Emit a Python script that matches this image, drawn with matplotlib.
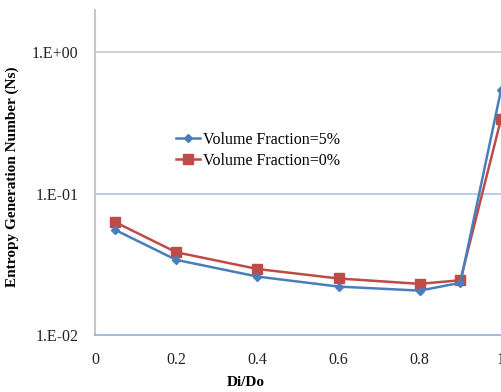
import matplotlib.pyplot as plt
import numpy as np

# Data
di_do = [0.05, 0.2, 0.4, 0.6, 0.8, 0.9, 1.0]
ns_5pct = [0.0553, 0.034, 0.0259, 0.022, 0.0206, 0.0234, 0.541]
ns_0pct = [0.0628, 0.0385, 0.0293, 0.0251, 0.0230, 0.0244, 0.337]

x_ticks = [0, 0.2, 0.4, 0.6, 0.8, 1]
y_ticks = [0.01, 0.1, 1.0]
y_tick_labels = ['1.E-02', '1.E-01', '1.E+00']

plt.rcParams['font.family'] = ['Liberation Serif', 'DejaVu Serif']

fig = plt.figure(figsize=(5.02, 3.92), dpi=100)
ax = fig.add_axes([95 / 502, 1 - 335 / 392, 406 / 502, 325 / 392])

ax.set_yscale('log')
ax.set_ylim(0.01, 1.99)
ax.set_xlim(0, 1)

# gridlines like the Excel chart
ax.axhline(1.0, color='#c8c8c8', linewidth=1.2, zorder=0)
ax.axhline(0.1, color='#a9c4e6', linewidth=1.2, zorder=0)

ax.plot(di_do, ns_5pct, color='#4a7ebb', linewidth=1.8, marker='D', markersize=4.5,
        label='Volume Fraction=5%', zorder=3)
ax.plot(di_do, ns_0pct, color='#be4b48', linewidth=1.8, marker='s', markersize=7,
        label='Volume Fraction=0%', zorder=2)

ax.set_xticks(x_ticks)
ax.set_xticklabels(['0', '0.2', '0.4', '0.6', '0.8', '1'])
ax.set_yticks(y_ticks)
ax.set_yticklabels(y_tick_labels)
ax.yaxis.set_minor_locator(plt.NullLocator())
ax.tick_params(axis='both', length=0, labelsize=11.5, colors='#222222')
ax.tick_params(axis='x', pad=12)
ax.tick_params(axis='y', pad=12)

for s in ['top', 'right']:
    ax.spines[s].set_visible(False)
ax.spines['left'].set_color('#c8c8c8')
ax.spines['left'].set_linewidth(1.5)
ax.spines['bottom'].set_color('#8fb0dc')
ax.spines['bottom'].set_linewidth(1.2)

ax.set_xlabel('Di/Do', fontsize=11, fontweight='bold')
ax.xaxis.set_label_coords(0.372, -0.125)
ax.set_ylabel('Entropy Generation Number (Ns)', fontsize=11, fontweight='bold')
ax.yaxis.set_label_coords(-0.187, 0.486)

ax.legend(loc='upper left', bbox_to_anchor=(0.185, 0.645), frameon=False, fontsize=11.5,
          handlelength=1.5, handletextpad=0.15, labelspacing=0.3, borderaxespad=0)

fig.savefig('out.png', dpi=100, facecolor='white')
